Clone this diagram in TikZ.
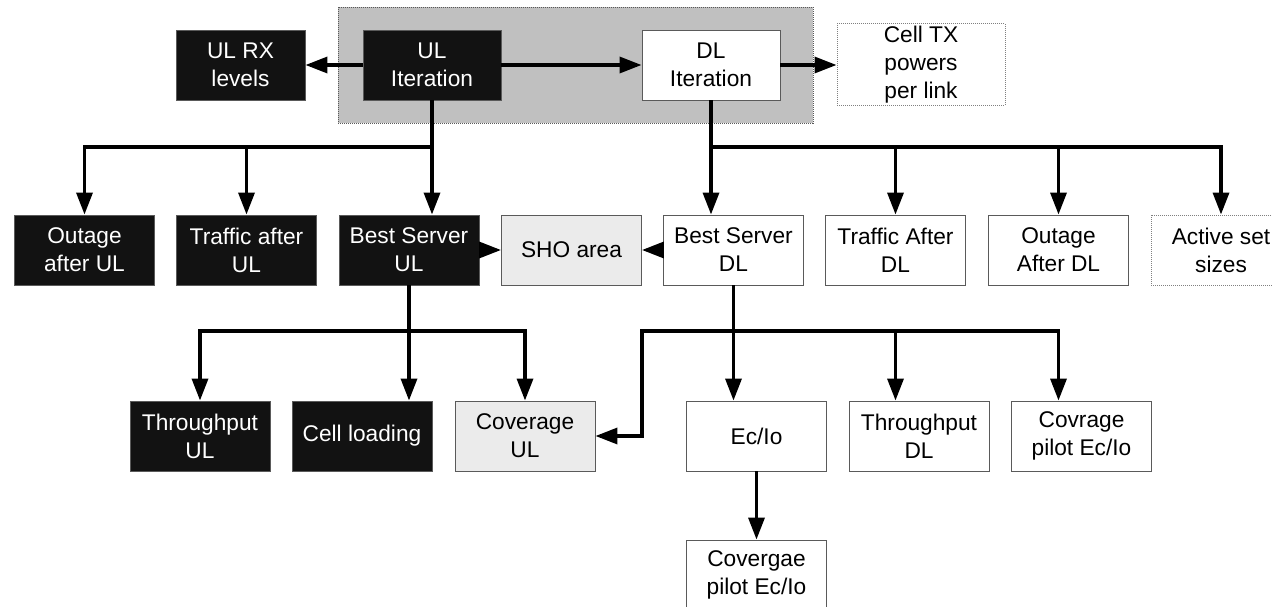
\documentclass[tikz,border=0pt]{standalone}
\usepackage{fontspec}
\setmainfont{Liberation Sans}
\usetikzlibrary{arrows.meta,positioning}
\definecolor{boxblack}{RGB}{18,18,18}
\definecolor{lightgrey}{RGB}{235,235,235}
\definecolor{iterfill}{RGB}{192,192,192}
\definecolor{edgegray}{RGB}{90,90,90}
\tikzset{
  box/.style={
    draw=edgegray,
    line width=0.9pt,
    fill=white,
    align=center,
    minimum width=140pt,
    minimum height=70pt,
    inner sep=2pt,
    font=\fontsize{22.7}{28}\selectfont
  },
  darkbox/.style={box, fill=boxblack, text=white},
  greybox/.style={box, fill=lightgrey},
  dotbox/.style={box, draw=gray, dash pattern=on 1pt off 1pt},
  arrow/.style={-{Triangle[length=22pt,width=16pt]}, line width=3.4pt, line join=miter}
}

\begin{document}
\begin{tikzpicture}[x=1pt, y=-1pt]
  \useasboundingbox (0,0) rectangle (1272,607);
  % iteration block
  \node[dotbox, draw=gray!70!black, fill=iterfill, minimum width=475pt, minimum height=116pt] (iter) at (575.5,65) {};
  \node[darkbox, minimum width=129pt] (ulrx) at (240.5,65) {UL RX\\levels};
  \node[darkbox, minimum width=138pt] (uliter) at (432,65) {UL\\Iteration};
  \node[box, minimum width=138pt] (dliter) at (711,65) {DL\\Iteration};
  \node[dotbox, minimum width=168pt, minimum height=79pt] (celltx) at (921,64.5) {Cell TX\\powers\\per link};

  % second row
  \node[darkbox] (outul) at (84.5,250) {Outage\\after UL};
  \node[darkbox] (trful) at (246.5,250) {Traffic after\\UL};
  \node[darkbox] (bsul) at (409,250) {Best Server\\UL};
  \node[greybox] (sho) at (571.5,250) {SHO area};
  \node[box] (bsdl) at (733.5,250) {Best Server\\DL};
  \node[box] (trfdl) at (895.5,250) {Traffic After\\DL};
  \node[box] (outdl) at (1058.5,250) {Outage\\After DL};
  \node[dotbox] (actset) at (1221,250) {Active set\\sizes};

  % third row
  \node[darkbox] (thrul) at (200,436) {Throughput\\UL};
  \node[darkbox] (cellload) at (362,436) {Cell loading};
  \node[greybox] (covul) at (525,436) {Coverage\\UL};
  \node[box] (ecio) at (756.5,436) {Ec/Io};
  \node[box] (thrdl) at (919,436) {Throughput\\DL};
  \node[box] (covpilot) at (1081.5,436) {Covrage\\pilot Ec/Io};
  \node[box] (convpilot) at (756.5,575) {Covergae\\pilot Ec/Io};

  \coordinate (topbus) at (0,147);
  \coordinate (midbus) at (0,331);

  % iteration links
  \draw[arrow] (uliter.west) -- (ulrx.east);
  \draw[arrow] (uliter.east) -- (dliter.west);
  \draw[arrow] (dliter.east) -- (dliter.east -| celltx.west);

  % uplink results
  \draw[arrow] (uliter.south) -- (uliter.south |- bsul.north);
  \draw[arrow] (uliter.south |- topbus) -| (outul.north);
  \draw[arrow] (topbus -| trful) -- (trful.north);
  \draw[arrow] (bsul.south) -- (bsul.south |- cellload.north);
  \draw[arrow] (bsul.south |- midbus) -| (thrul.north);
  \draw[arrow] (bsul.south |- midbus) -| (covul.north);
  \draw[arrow] (bsul.east) -- (sho.west);

  % downlink results
  \draw[arrow] (dliter.south) -- (dliter.south |- bsdl.north);
  \draw[arrow] (dliter.south |- topbus) -| (actset.north);
  \draw[arrow] (topbus -| trfdl) -- (trfdl.north);
  \draw[arrow] (topbus -| outdl) -- (outdl.north);
  \draw[arrow] (bsdl.west) -- (sho.east);
  \draw[arrow] (bsdl.south) -- (bsdl.south |- ecio.north);
  \draw[arrow] (bsdl.south |- midbus) -| (outdl |- covpilot.north);
  \draw[arrow] (midbus -| trfdl) -- (trfdl |- thrdl.north);
  \draw[arrow] (bsdl.south |- midbus) -| (sho.east |- covul.east) -- (covul.east);
  \draw[arrow] (ecio.south) -- (convpilot.north);
\end{tikzpicture}
\end{document}
